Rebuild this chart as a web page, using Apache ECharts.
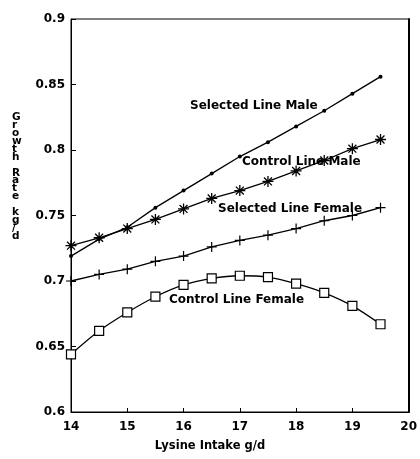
<!DOCTYPE html>
<html>
<head>
<meta charset="utf-8">
<script src="https://cdn.jsdelivr.net/npm/echarts@6/dist/echarts.min.js"></script>
<style>html,body{margin:0;padding:0;background:#fff;}#c{width:420px;height:459px;}</style>
</head>
<body>
<div id="c"></div>
<script>
const lysine = [14, 14.5, 15, 15.5, 16, 16.5, 17, 17.5, 18, 18.5, 19, 19.5];
const selectedMale   = [0.719, 0.732, 0.741, 0.756, 0.769, 0.782, 0.795, 0.806, 0.818, 0.830, 0.843, 0.856];
const controlMale    = [0.727, 0.733, 0.740, 0.747, 0.755, 0.763, 0.769, 0.776, 0.784, 0.792, 0.801, 0.808];
const selectedFemale = [0.700, 0.705, 0.709, 0.715, 0.719, 0.726, 0.731, 0.735, 0.740, 0.746, 0.750, 0.756];
const controlFemale  = [0.644, 0.662, 0.676, 0.688, 0.697, 0.702, 0.704, 0.703, 0.698, 0.691, 0.681, 0.667];
const seriesNames = ['Selected Line Male', 'Control Line Male', 'Selected Line Female', 'Control Line Female'];
const xTitle = 'Lysine Intake g/d';
const yTitle = 'Growth Rate kg/d';

const pair = arr => lysine.map((x, i) => [x, arr[i]]);
const FONT = 'DejaVu Sans';
const stacked = yTitle.split(' ').map(w => w.split('').join('\n')).join('\n\n');

const chart = echarts.init(document.getElementById('c'), null, {renderer: 'canvas'});
const lineStyle = {color: '#000', width: 1.3};
chart.setOption({
  animation: false,
  backgroundColor: '#fff',
  grid: {left: 71, right: 11, top: 19, bottom: 47, show: true, borderColor: '#000', borderWidth: 1},
  xAxis: {
    type: 'value', min: 14, max: 20, interval: 1,
    axisLine: {lineStyle: {color: '#000', width: 1}},
    axisTick: {inside: true, length: 4, lineStyle: {color: '#000'}},
    axisLabel: {color: '#000', fontFamily: FONT, fontWeight: 'bold', fontSize: 12, margin: 9},
    splitLine: {show: false}
  },
  yAxis: [{
    type: 'value', min: 0.6, max: 0.9, interval: 0.05,
    axisLine: {show: true, lineStyle: {color: '#000', width: 1}},
    axisTick: {show: true, inside: true, length: 5, lineStyle: {color: '#000'}},
    axisLabel: {color: '#000', fontFamily: FONT, fontWeight: 'bold', fontSize: 12, margin: 6},
    splitLine: {show: false}
  }, {
    type: 'value', min: 0.6, max: 0.9, interval: 0.05, position: 'right',
    axisLine: {show: true, lineStyle: {color: '#000', width: 2}},
    axisTick: {show: false}, axisLabel: {show: false}, splitLine: {show: false}
  }],
  series: [
    {name: seriesNames[0], type: 'line', data: pair(selectedMale), symbol: 'circle', symbolSize: 4,
      itemStyle: {color: '#000'}, lineStyle: lineStyle},
    {name: seriesNames[1], type: 'line', data: pair(controlMale),
      symbol: 'path://M0,-5L0,5M-5,0L5,0M-3.6,-3.6L3.6,3.6M-3.6,3.6L3.6,-3.6', symbolSize: 11,
      itemStyle: {color: '#000', borderColor: '#000', borderWidth: 1.3}, lineStyle: lineStyle},
    {name: seriesNames[2], type: 'line', data: pair(selectedFemale),
      symbol: 'path://M0,-5L0,5M-5,0L5,0', symbolSize: 10,
      itemStyle: {color: '#000', borderColor: '#000', borderWidth: 1.2}, lineStyle: lineStyle},
    {name: seriesNames[3], type: 'line', data: pair(controlFemale), smooth: 0.3,
      symbol: 'rect', symbolSize: 9, z: 3,
      itemStyle: {color: '#fff', borderColor: '#000', borderWidth: 1.2}, lineStyle: lineStyle}
  ],
  graphic: [
    {type: 'text', left: 190, top: 100, style: {text: seriesNames[0], fill: '#000', font: 'bold 12px "DejaVu Sans"'}},
    {type: 'text', left: 242, top: 156, style: {text: seriesNames[1], fill: '#000', font: 'bold 12px "DejaVu Sans"'}},
    {type: 'text', left: 218, top: 203, style: {text: seriesNames[2], fill: '#000', font: 'bold 12px "DejaVu Sans"'}},
    {type: 'text', left: 169, top: 294, style: {text: seriesNames[3], fill: '#000', font: 'bold 12px "DejaVu Sans"'}},
    {type: 'text', left: 12, top: 112, style: {text: stacked, fill: '#000', font: 'bold 10.5px "DejaVu Sans"', lineHeight: 7.9, align: 'center'}},
    {type: 'text', left: 'center', top: 440, style: {text: xTitle, fill: '#000', font: 'bold 11.5px "DejaVu Sans"'}}
  ]
});
</script>
</body>
</html>
